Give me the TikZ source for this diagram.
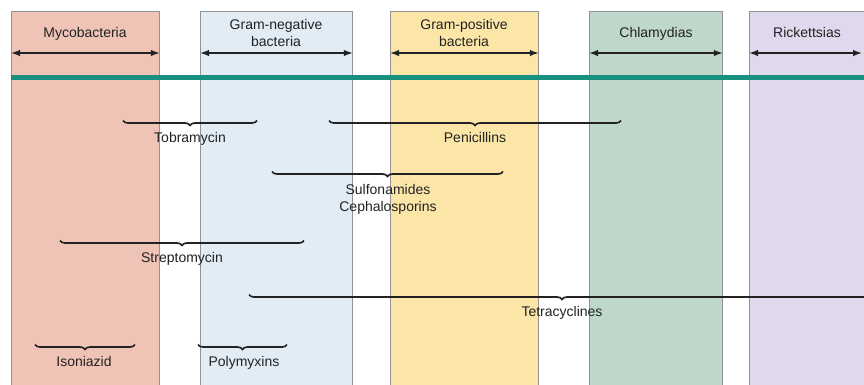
\documentclass[tikz,border=0pt]{standalone}
\usepackage{fontspec}
\setmainfont{Liberation Sans}
\usetikzlibrary{decorations.pathreplacing,arrows.meta}
\definecolor{myco}{HTML}{F0C3B7}
\definecolor{gneg}{HTML}{E2ECF5}
\definecolor{gpos}{HTML}{FBE6A8}
\definecolor{chla}{HTML}{BFD7CA}
\definecolor{rick}{HTML}{E0D8EC}
\definecolor{tealband}{HTML}{17907F}
\definecolor{ink}{HTML}{222222}
\begin{document}
\begin{tikzpicture}[x=1pt,y=-1pt,
  col/.style={draw=gray!85, line width=0.8pt, anchor=north west, inner sep=0pt,
              minimum height=400pt},
  hdr/.style={font=\fontsize{14}{17}\selectfont, text=ink, align=center, inner sep=0pt},
  span/.style={{Latex[length=9pt,width=6.5pt]}-{Latex[length=9pt,width=6.5pt]}, line width=1.4pt, draw=ink},
  brc/.style={decorate, decoration={brace,mirror,amplitude=5pt}, line width=1.7pt, draw=ink},
  lbl/.style={font=\fontsize{14}{17}\selectfont, text=ink, inner sep=0pt, align=center}]
\clip (0,0) rectangle (864,384);
\fill[white] (0,0) rectangle (864,384);

% columns
\node[col, fill=myco, minimum width=148pt] (c1) at (11,11) {};
\node[col, fill=gneg, minimum width=152pt] (c2) at (200,11) {};
\node[col, fill=gpos, minimum width=148pt] (c3) at (390,11) {};
\node[col, fill=chla, minimum width=133pt] (c4) at (589,11) {};
\node[col, fill=rick, minimum width=140pt] (c5) at (749,11) {};

% headers
\node[hdr, anchor=base] (h1) at (85,37) {Mycobacteria};
\node[hdr] (h2) at (276,33) {Gram-negative\\bacteria};
\node[hdr] (h3) at (464,33) {Gram-positive\\bacteria};
\node[hdr, anchor=base] (h4) at (656,37) {Chlamydias};
\node[hdr, anchor=base] (h5) at (807,37) {Rickettsias};

% span arrows
\coordinate (hy) at (0,53);
\coordinate (r5) at (862,53);
\draw[span] (c1.west |- hy) -- (c1.east |- hy);
\draw[span] (c2.west |- hy) -- (c2.east |- hy);
\draw[span] (c3.west |- hy) -- (c3.east |- hy);
\draw[span] (c4.west |- hy) -- (c4.east |- hy);
\draw[span] (c5.west |- hy) -- (r5);

% teal band
\coordinate (t0) at (11,77.5);
\coordinate (t1) at (870,77.5);
\draw[tealband, line width=5pt] (t0) -- (t1);

% braces
\coordinate (tobA) at (123,120.5); \coordinate (tobB) at (257,120.5);
\coordinate (penA) at (329,120.5); \coordinate (penB) at (621,120.5);
\coordinate (sulA) at (272,171.5); \coordinate (sulB) at (503,171.5);
\coordinate (strA) at (60,240.5);  \coordinate (strB) at (304,240.5);
\coordinate (tetA) at (249,294.5); \coordinate (tetB) at (875,294.5);
\coordinate (isoA) at (35,344.5);  \coordinate (isoB) at (135,344.5);
\coordinate (polA) at (198,344.5); \coordinate (polB) at (287,344.5);

\draw[brc] (tobA) -- (tobB);
\draw[brc] (penA) -- (penB);
\draw[brc] (sulA) -- (sulB);
\draw[brc] (strA) -- (strB);
\draw[brc] (tetA) -- (tetB);
\draw[brc] (isoA) -- (isoB);
\draw[brc] (polA) -- (polB);

% labels
\node[lbl, anchor=base] (l1) at (190,142) {Tobramycin};
\node[lbl, anchor=base] (l2) at (475,142) {Penicillins};
\node[lbl] (l3) at (388,199) {Sulfonamides\\Cephalosporins};
\node[lbl, anchor=base] (l4) at (182,262) {Streptomycin};
\node[lbl, anchor=base] (l5) at (562,316) {Tetracyclines};
\node[lbl, anchor=base] (l6) at (84,366) {Isoniazid};
\node[lbl, anchor=base] (l7) at (244,366) {Polymyxins};
\end{tikzpicture}
\end{document}
